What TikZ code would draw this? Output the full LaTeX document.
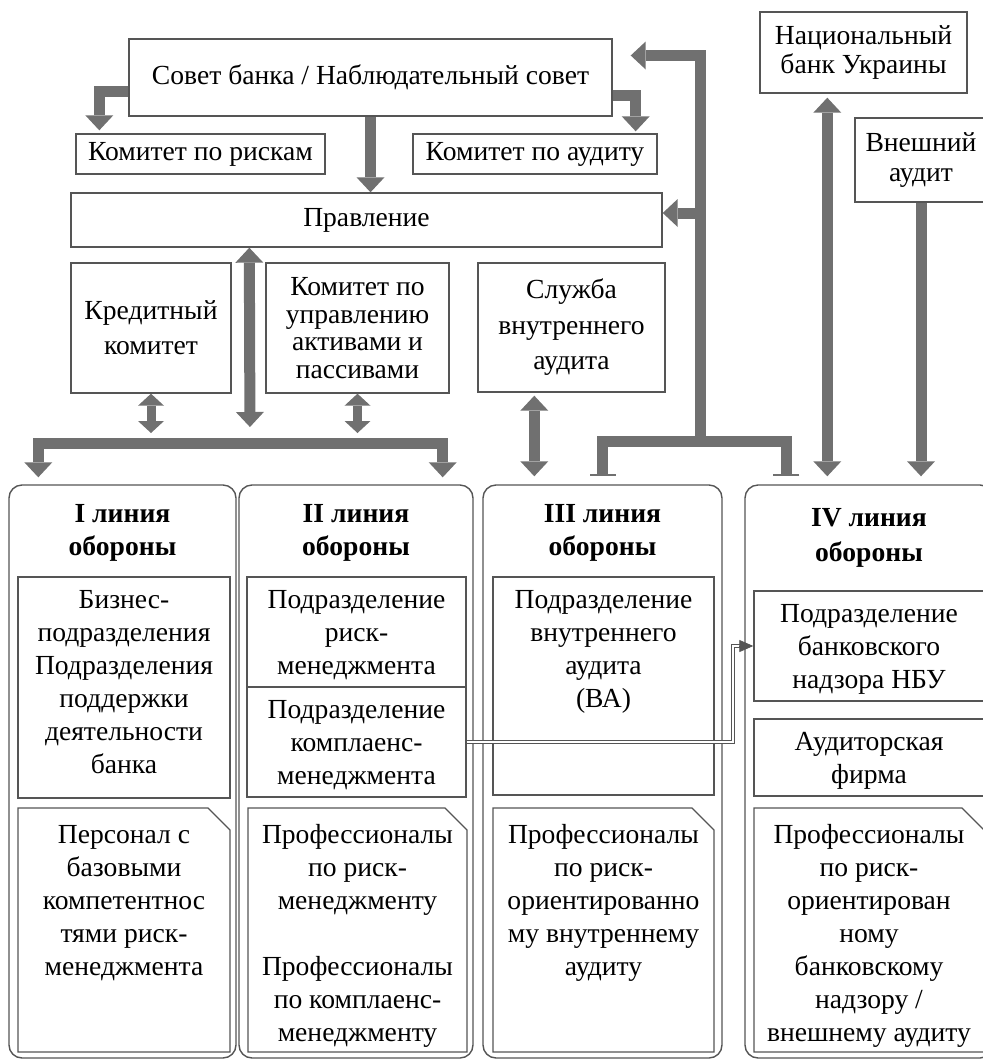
\documentclass[tikz,border=0pt]{standalone}
\usepackage{fontspec}
\setmainfont{Liberation Serif}
\usetikzlibrary{arrows.meta,shapes.misc}
\definecolor{linegray}{RGB}{85,85,85}
\definecolor{arrowgray}{RGB}{112,112,112}
\newcommand{\toptext}[4]{\parbox[c][#1][t]{#2}{\centering\vspace*{#3}\strut #4}}
\begin{document}
\begin{tikzpicture}[x=1pt, y=-1pt,
	box/.style={draw=linegray, line width=1.4pt, fill=white, inner sep=0pt, align=center, font=\fontsize{27.6}{33}\selectfont},
	col/.style={box, rounded corners=13pt},
	cut/.style={box, chamfered rectangle, chamfered rectangle corners=north east, chamfered rectangle xsep=11pt, chamfered rectangle ysep=11pt},
	blk/.tip={Triangle[length=15pt, width=28pt, line width=0pt]},
	sblk/.tip={Triangle[length=12pt, width=26pt, line width=0pt]},
	flow/.style={draw=arrowgray, line width=11pt, -blk},
	flowboth/.style={draw=arrowgray, line width=11pt, blk-blk},
	flowsmall/.style={draw=arrowgray, line width=9pt, sblk-sblk},
	trunk/.style={draw=arrowgray, line width=11pt, {Bar[width=26pt, line width=2pt]}-},
	link/.style={draw=linegray, line width=0.8pt, double, double distance=2.4pt},
	linkhead/.style={draw=linegray, line width=0.8pt, -{Triangle[length=14pt, width=12pt]}}]
	\useasboundingbox (0,0) rectangle (983,1061);
	\clip (0,0) rectangle (983,1061);
	% upper part
	\node[box, minimum width=483pt, minimum height=77pt] (sovet) at (370.5,77.5) {Совет банка / Наблюдательный совет};
	\node[box, minimum width=249pt, minimum height=40pt] (riski) at (200.5,154) {Комитет по рискам};
	\node[box, minimum width=244pt, minimum height=40pt] (audit) at (535,154) {Комитет по аудиту};
	\node[box, minimum width=591pt, minimum height=54pt] (pravl) at (366.5,220) {Правление};
	\node[box, minimum width=160pt, minimum height=130pt, font=\fontsize{27.6}{35}\selectfont] (kredit) at (151,328) {Кредитный\\комитет};
	\node[box, minimum width=183pt, minimum height=130pt, font=\fontsize{27.6}{27.5}\selectfont] (aktivy) at (357.5,328) {Комитет по\\управлению\\активами и\\пассивами};
	\node[box, minimum width=187pt, minimum height=129pt, font=\fontsize{27.6}{35.5}\selectfont] (sluzhba) at (571.5,327.5) {Служба\\внутреннего\\аудита};
	\node[box, minimum width=207pt, minimum height=81pt, font=\fontsize{27.6}{29}\selectfont] (nbu) at (863.5,52.5) {Национальный\\банк Украины};
	\node[box, minimum width=132pt, minimum height=84pt, font=\fontsize{27.6}{30}\selectfont] (vaud) at (921,160) {Внешний\\аудит};
	% lines of defence
	\node[col] (col1) at (122.5,771.5) {\toptext{573pt}{227pt}{14pt}{\bfseries I линия\\обороны}};
	\node[col] (col2) at (356,771.5) {\toptext{573pt}{234pt}{14pt}{\bfseries II линия\\обороны}};
	\node[col] (col3) at (602.5,771.5) {\toptext{573pt}{239pt}{14pt}{\bfseries III линия\\обороны}};
	\node[col, font=\fontsize{27.6}{35}\selectfont] (col4) at (869,771.5) {\toptext{573pt}{248pt}{17pt}{\bfseries IV линия\\обороны}};
	\node[box] (b1) at (124,687.5) {\toptext{221pt}{212pt}{8pt}{Бизнес-\\подразделения\\Подразделения\\поддержки\\деятельности\\банка}};
	\node[cut] (p1) at (124,930) {\toptext{222pt}{190pt}{1pt}{Персонал с\\базовыми\\компетентнос\\тями риск-\\менеджмента}};
	\node[box] (r2) at (356.5,632) {\toptext{110pt}{219pt}{8pt}{Подразделение\\риск-\\менеджмента}};
	\node[box] (k2) at (356.5,742) {\toptext{110pt}{219pt}{8pt}{Подразделение\\комплаенс-\\менеджмента}};
	\node[cut] (p2) at (357.5,930) {\toptext{222pt}{197pt}{1pt}{Профессионалы\\по риск-\\менеджменту\\[33pt]Профессионалы\\по комплаенс-\\менеджменту}};
	\node[box] (va3) at (603.5,686) {\toptext{218pt}{221pt}{8pt}{Подразделение\\внутреннего\\аудита\\(ВА)}};
	\node[cut] (p3) at (603.5,930) {\toptext{222pt}{199pt}{1pt}{Профессионалы\\по риск-\\ориентированно\\му внутреннему\\аудиту}};
	\node[box] (nadzor) at (869,646) {\toptext{110pt}{230pt}{8pt}{Подразделение\\банковского\\надзора НБУ}};
	\node[box] (firm) at (869,757.5) {\toptext{77pt}{230pt}{8pt}{Аудиторская\\фирма}};
	\node[cut] (p4) at (869,930) {\toptext{222pt}{208pt}{1pt}{Профессионалы\\по риск-\\ориентирован\\ному\\банковскому\\надзору /\\внешнему аудиту}};
	% arrows
	\coordinate (fork) at (250,443);
	\coordinate (hub) at (700,441);
	\coordinate (pin) at ([yshift=7pt]pravl.east);
	\coordinate (c4top) at ([yshift=8pt]col4.north);
	\coordinate (bend) at (733,742);
	\draw[flow] ([yshift=-14pt]sovet.west) -| ([xshift=24pt, yshift=3pt]riski.north west);
	\draw[flow] ([yshift=-18pt]sovet.east) -| ([xshift=-22pt, yshift=2pt]audit.north east);
	\draw[flow] (sovet.south) -- (pravl.north -| sovet.south);
	\draw[flowboth, shorten >=16pt] ([xshift=179pt]pravl.south west) -- (fork);
	\draw[flowsmall, shorten >=10pt] (kredit.south) -- (kredit.south |- fork);
	\draw[flowsmall, shorten >=10pt] (aktivy.south) -- (aktivy.south |- fork);
	\draw[flowboth] ([xshift=30pt, yshift=7pt]col1.north west) |- (fork) -| ([xshift=-31pt, yshift=7pt]col2.north east);
	\draw[flowboth, shorten <=3pt] ([xshift=57pt]sluzhba.south west) -- ([xshift=52pt, yshift=8pt]col3.north west);
	\draw[trunk] ([yshift=8pt]col3.north) |- (hub);
	\draw[trunk] ([xshift=42pt, yshift=8pt]col4.north west) |- (hub);
	\draw[flow] (hub) |- ([xshift=18pt, yshift=22pt]sovet.east);
	\draw[flow] (hub |- pin) -- (pin);
	\draw[flowboth, shorten <=4pt] ([xshift=68pt]nbu.south west) -- ([xshift=83pt, yshift=8pt]col4.north west);
	\draw[flow] (vaud.south) -- (vaud.south |- c4top);
	\draw[link] (k2.east) -- (bend) |- ([xshift=-13pt]nadzor.west);
	\draw[linkhead] ([xshift=-14pt]nadzor.west) -- (nadzor.west);
\end{tikzpicture}
\end{document}
